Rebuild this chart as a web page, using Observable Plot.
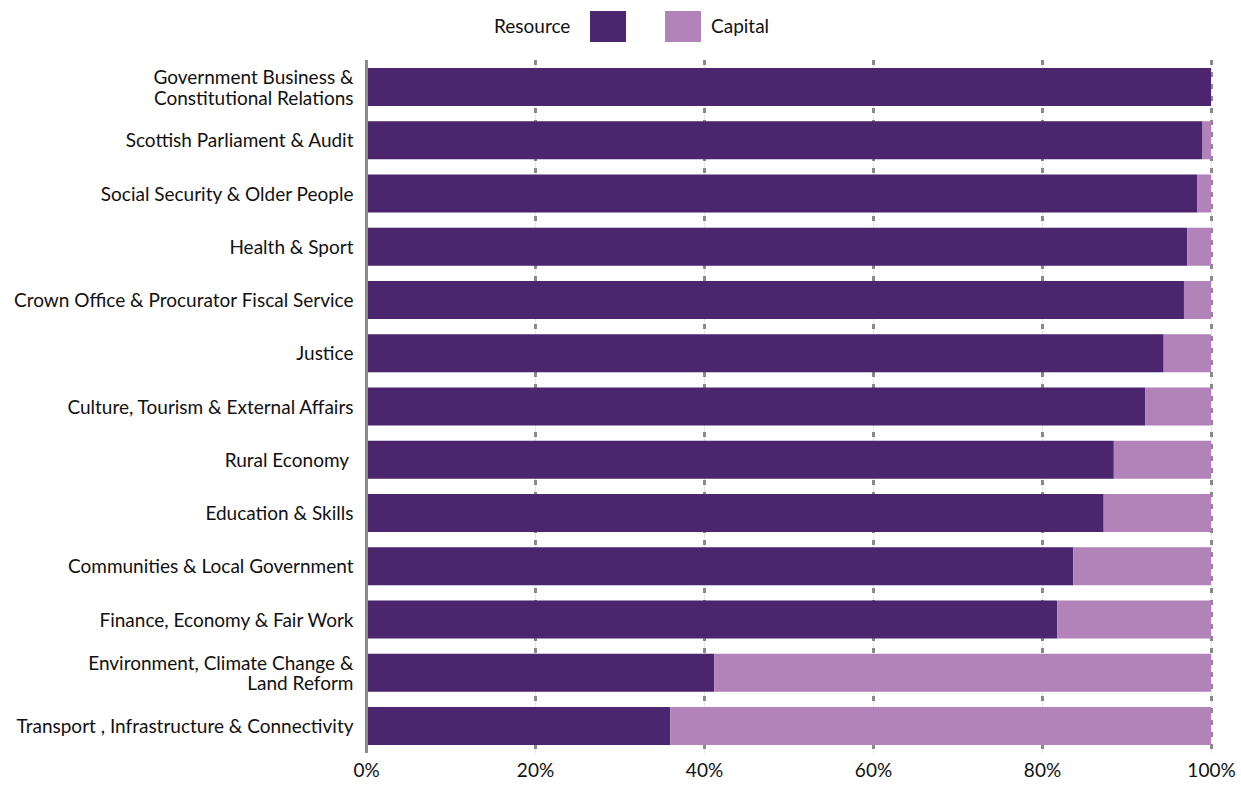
<!DOCTYPE html>
<html>
<head>
<meta charset="utf-8">
<script src="https://cdn.jsdelivr.net/npm/d3@7"></script>
<script src="https://cdn.jsdelivr.net/npm/@observablehq/plot@0.6"></script>
<style>
  html, body { margin: 0; padding: 0; background: #fff; }
  body { width: 1241px; height: 785px; overflow: hidden; font-family: Lato, "Open Sans", sans-serif; color: #111; }
  #legend { position: relative; height: 50px; width: 1241px; font-size: 19px; }
  #legend .lab { position: absolute; top: 14px; line-height: 24px; }
  #legend .sw { position: absolute; top: 11px; width: 36px; height: 31px; }
  #chart svg { display: block; }
</style>
</head>
<body>
<div id="legend"></div>
<div id="chart"></div>
<script>
const departments = [
  "Government Business &\nConstitutional Relations",
  "Scottish Parliament & Audit",
  "Social Security & Older People",
  "Health & Sport",
  "Crown Office & Procurator Fiscal Service",
  "Justice",
  "Culture, Tourism & External Affairs",
  "Rural Economy ",
  "Education & Skills",
  "Communities & Local Government",
  "Finance, Economy & Fair Work",
  "Environment, Climate Change &\nLand Reform",
  "Transport , Infrastructure & Connectivity"
];
const resource = [100, 99.0, 98.4, 97.2, 96.8, 94.4, 92.2, 88.5, 87.3, 83.7, 81.8, 41.2, 36.0];
const capital  = [0, 1.0, 1.6, 2.8, 3.2, 5.6, 7.8, 11.5, 12.7, 16.3, 18.2, 58.8, 64.0];
const seriesNames = ["Resource", "Capital"];
const seriesColors = ["#4b266f", "#b283b9"];
const xTicks = [0, 20, 40, 60, 80, 100];

const rows = [];
departments.forEach((d, i) => {
  rows.push({dept: d, type: "Resource", value: resource[i]});
  rows.push({dept: d, type: "Capital", value: capital[i]});
});

// Legend
const legend = document.getElementById("legend");
legend.innerHTML = `
  <span class="lab" style="left:494px">${seriesNames[0]}</span>
  <span class="sw" style="left:590px;background:${seriesColors[0]}"></span>
  <span class="sw" style="left:665px;background:${seriesColors[1]}"></span>
  <span class="lab" style="left:711px">${seriesNames[1]}</span>`;

const chart = Plot.plot({
  width: 1241,
  height: 735,
  marginTop: 10,
  marginLeft: 366,
  marginRight: 30,
  marginBottom: 32,
  style: {fontFamily: "Lato, 'Open Sans', sans-serif", fontSize: "19px", color: "#111", background: "#fff"},
  x: {domain: [0, 100], label: null, axis: null},
  y: {domain: departments, paddingInner: 0.286, paddingOuter: 0.15, round: false, label: null, axis: null},
  color: {domain: seriesNames, range: seriesColors},
  marks: [
    Plot.ruleX(xTicks, {stroke: "#e6e6e6", strokeWidth: 1}),
    Plot.ruleX(xTicks, {stroke: "#8a8a8a", strokeWidth: 3, strokeDasharray: "5,7"}),
    Plot.barX(rows, Plot.stackX({x: "value", y: "dept", fill: "type", order: seriesNames})),
    Plot.ruleX([0], {stroke: "#8c8c8c", strokeWidth: 3}),
    Plot.axisY({tickSize: 0, tickPadding: 13, fontSize: 19, lineHeight: 1.1, label: null}),
    Plot.axisX({ticks: xTicks, tickFormat: d => d + "%", tickSize: 0, tickPadding: 10, fontSize: 19, label: null})
  ]
});
document.getElementById("chart").appendChild(chart);
</script>
</body>
</html>
